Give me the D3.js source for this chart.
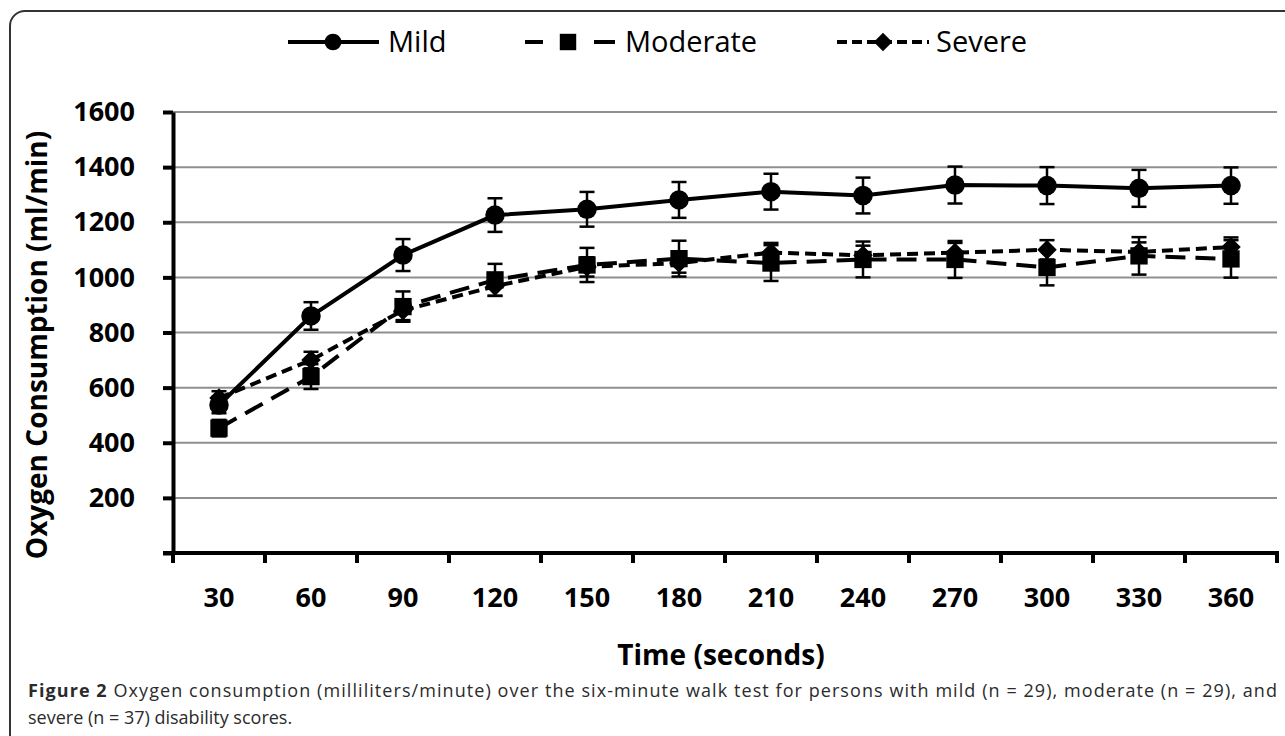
<!DOCTYPE html>
<html>
<head>
<meta charset="utf-8">
<script src="https://cdn.jsdelivr.net/npm/d3@7"></script>
<style>
  body { margin: 0; background: #fff; }
  svg { display: block; font-family: "Open Sans", sans-serif; }
</style>
</head>
<body>
<svg id="chart" width="1285" height="736"></svg>
<script>
// values (ml/min)
var times = [30, 60, 90, 120, 150, 180, 210, 240, 270, 300, 330, 360];
var mild = [537, 860, 1081, 1226, 1247, 1281, 1311, 1297, 1335, 1333, 1323, 1333];
var mildErr = [30, 50, 58, 61, 63, 65, 65, 65, 67, 67, 67, 66];
var moderate = [453, 640, 894, 991, 1045, 1068, 1052, 1065, 1065, 1036, 1078, 1067];
var moderateErr = [30, 45, 55, 58, 62, 65, 65, 65, 67, 65, 68, 68];
var severe = [562, 700, 880, 968, 1038, 1052, 1090, 1080, 1090, 1100, 1092, 1110];
var severeErr = [25, 30, 35, 35, 35, 35, 35, 35, 35, 35, 35, 35];
var yTicks = [0, 200, 400, 600, 800, 1000, 1200, 1400, 1600];
var seriesNames = ["Mild", "Moderate", "Severe"];

var captionBold = "Figure 2";
var captionLine1 = " Oxygen consumption (milliliters/minute) over the six-minute walk test for persons with mild (n = 29), moderate (n = 29), and";
var captionLine2 = "severe (n = 37) disability scores.";

var svg = d3.select("#chart");

var plot = {left: 173, right: 1277, top: 112, bottom: 553};

var x = d3.scaleBand().domain(times).range([plot.left, plot.right]).padding(0);
var y = d3.scaleLinear().domain([0, 1600]).range([plot.bottom, plot.top]);
var cx = function (t) { return x(t) + x.bandwidth() / 2; };

// outer frame, runs off the right and bottom edges
svg.append("rect")
    .attr("x", 10).attr("y", 11)
    .attr("width", 1300).attr("height", 760)
    .attr("rx", 15).attr("ry", 15)
    .attr("fill", "none").attr("stroke", "#333").attr("stroke-width", 2);

// gridlines
svg.append("g")
  .selectAll("line")
  .data(yTicks.slice(1))
  .enter().append("line")
    .attr("x1", plot.left).attr("x2", plot.right)
    .attr("y1", function (d) { return y(d); })
    .attr("y2", function (d) { return y(d); })
    .attr("stroke", "#8f8f8f").attr("stroke-width", 2);

// y axis
var yAxis = svg.append("g")
    .attr("transform", "translate(" + plot.left + ",0)")
    .call(d3.axisLeft(y).tickValues(yTicks).tickSize(10).tickSizeOuter(0).tickPadding(28)
      .tickFormat(function (d) { return d === 0 ? "" : d; }));
yAxis.select(".domain").attr("stroke", "#000").attr("stroke-width", 4);
yAxis.selectAll(".tick line").attr("stroke", "#000").attr("stroke-width", 4);
yAxis.selectAll("text")
    .attr("font-size", 27).attr("font-weight", "bold").attr("fill", "#000")
    .attr("font-family", "Open Sans");

// x axis: labels centred, ticks on category boundaries
var xAxis = svg.append("g")
    .attr("transform", "translate(0," + plot.bottom + ")")
    .call(d3.axisBottom(x).tickSize(0).tickPadding(35));
xAxis.select(".domain").remove();
xAxis.selectAll("text")
    .attr("font-size", 27).attr("font-weight", "bold").attr("fill", "#000")
    .attr("font-family", "Open Sans");

var bounds = times.map(function (t) { return x(t); }).concat([plot.right]);
svg.append("g")
  .selectAll("line")
  .data(bounds)
  .enter().append("line")
    .attr("x1", function (d) { return d; }).attr("x2", function (d) { return d; })
    .attr("y1", plot.bottom).attr("y2", plot.bottom + 10)
    .attr("stroke", "#000").attr("stroke-width", 4);
svg.append("line")
    .attr("x1", plot.left - 10).attr("x2", plot.right + 2)
    .attr("y1", plot.bottom).attr("y2", plot.bottom)
    .attr("stroke", "#000").attr("stroke-width", 4);

// axis titles
svg.append("text")
    .attr("transform", "translate(37,345) rotate(-90)")
    .attr("text-anchor", "middle").attr("dy", "0.35em")
    .attr("font-size", 28).attr("font-weight", "bold")
    .text("Oxygen Consumption (ml/min)");
svg.append("text")
    .attr("x", 721).attr("y", 665)
    .attr("text-anchor", "middle")
    .attr("font-size", 28).attr("font-weight", "bold")
    .text("Time (seconds)");

// markers (the diamond is a square turned 45 degrees)
var symbols = [
  d3.symbol().type(d3.symbolCircle).size(300),
  d3.symbol().type(d3.symbolSquare).size(300),
  d3.symbol().type(d3.symbolSquare).size(190)
];
var symbolTurn = [0, 0, 45];
var dashes = [null, "20,10", "11,6"];

var series = [
  {name: seriesNames[0], values: mild, err: mildErr},
  {name: seriesNames[1], values: moderate, err: moderateErr},
  {name: seriesNames[2], values: severe, err: severeErr}
];

var line = d3.line()
    .x(function (d, i) { return cx(times[i]); })
    .y(function (d) { return y(d); });

series.forEach(function (s, k) {
  var g = svg.append("g");

  g.append("path")
      .attr("d", line(s.values))
      .attr("fill", "none").attr("stroke", "#000").attr("stroke-width", 4)
      .attr("stroke-dasharray", dashes[k]);

  var eb = g.selectAll(".err")
    .data(s.values)
    .enter().append("g");
  eb.append("line")
      .attr("x1", function (d, i) { return cx(times[i]); })
      .attr("x2", function (d, i) { return cx(times[i]); })
      .attr("y1", function (d, i) { return y(d + s.err[i]); })
      .attr("y2", function (d, i) { return y(d - s.err[i]); })
      .attr("stroke", "#000").attr("stroke-width", 2.5);
  [1, -1].forEach(function (sign) {
    eb.append("line")
        .attr("x1", function (d, i) { return cx(times[i]) - 7.5; })
        .attr("x2", function (d, i) { return cx(times[i]) + 7.5; })
        .attr("y1", function (d, i) { return y(d + sign * s.err[i]); })
        .attr("y2", function (d, i) { return y(d + sign * s.err[i]); })
        .attr("stroke", "#000").attr("stroke-width", 2.5);
  });

  g.selectAll(".mk")
    .data(s.values)
    .enter().append("path")
      .attr("d", symbols[k])
      .attr("transform", function (d, i) {
        return "translate(" + cx(times[i]) + "," + y(d) + ") rotate(" + symbolTurn[k] + ")";
      })
      .attr("fill", "#000");
});

// legend
var legendY = 42;
var legendItems = [
  {x1: 288, x2: 379, mark: 333, text: 388},
  {x1: 525, x2: 615, mark: 568, text: 625},
  {x1: 837, x2: 929, mark: 883, text: 936}
];
var legendDash = [null, "18,51,21", "10,5"];
var legendSymbols = [
  d3.symbol().type(d3.symbolCircle).size(220),
  d3.symbol().type(d3.symbolSquare).size(270),
  d3.symbol().type(d3.symbolSquare).size(170)
];
legendItems.forEach(function (it, k) {
  svg.append("line")
      .attr("x1", it.x1).attr("x2", it.x2)
      .attr("y1", legendY).attr("y2", legendY)
      .attr("stroke", "#000").attr("stroke-width", 4)
      .attr("stroke-dasharray", legendDash[k]);
  svg.append("path")
      .attr("d", legendSymbols[k])
      .attr("transform", "translate(" + it.mark + "," + legendY + ") rotate(" + symbolTurn[k] + ")")
      .attr("fill", "#000");
  svg.append("text")
      .attr("x", it.text).attr("y", legendY + 10)
      .attr("font-size", 29)
      .text(seriesNames[k]);
});

// caption, first line justified to the plot edge
var cap = svg.append("text")
    .attr("x", 28).attr("y", 697)
    .attr("font-size", 18).attr("fill", "#2b2b2b")
    .attr("textLength", 1249).attr("lengthAdjust", "spacing");
cap.append("tspan").attr("font-weight", "bold").text(captionBold);
cap.append("tspan").text(captionLine1);
svg.append("text")
    .attr("x", 28).attr("y", 724)
    .attr("font-size", 18).attr("fill", "#2b2b2b")
    .text(captionLine2);
</script>
</body>
</html>
